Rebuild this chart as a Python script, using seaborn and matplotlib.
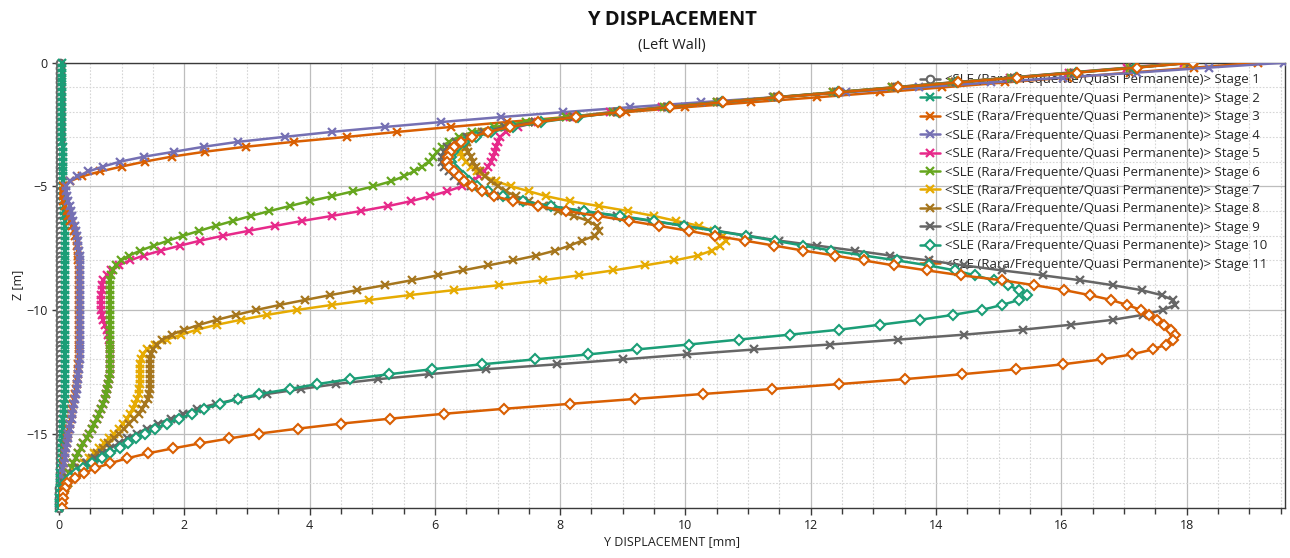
import matplotlib
matplotlib.use("Agg")
import matplotlib.pyplot as plt
from matplotlib.ticker import MultipleLocator
import seaborn as sns

# Node depths along the wall [m]
DEPTH = [
    0.0, -0.2, -0.4, -0.6, -0.8, -1.0, -1.2, -1.4, -1.6, -1.8,
    -2.0, -2.2, -2.4, -2.6, -2.8, -3.0, -3.2, -3.4, -3.6, -3.8,
    -4.0, -4.2, -4.4, -4.6, -4.8, -5.0, -5.2, -5.4, -5.6, -5.8,
    -6.0, -6.2, -6.4, -6.6, -6.8, -7.0, -7.2, -7.4, -7.6, -7.8,
    -8.0, -8.2, -8.4, -8.6, -8.8, -9.0, -9.2, -9.4, -9.6, -9.8,
    -10.0, -10.2, -10.4, -10.6, -10.8, -11.0, -11.2, -11.4, -11.6, -11.8,
    -12.0, -12.2, -12.4, -12.6, -12.8, -13.0, -13.2, -13.4, -13.6, -13.8,
    -14.0, -14.2, -14.4, -14.6, -14.8, -15.0, -15.2, -15.4, -15.6, -15.8,
    -16.0, -16.2, -16.4, -16.6, -16.8, -17.0, -17.2, -17.4, -17.6, -17.8, -18.0,
]

# Horizontal (Y) displacement of the left wall per construction stage [mm]
STAGE_01 = [
    0.02, 0.02, 0.02, 0.02, 0.02, 0.02, 0.02, 0.02, 0.02, 0.02,
    0.02, 0.02, 0.02, 0.02, 0.02, 0.02, 0.02, 0.02, 0.02, 0.02,
    0.02, 0.02, 0.02, 0.02, 0.02, 0.02, 0.02, 0.02, 0.02, 0.02,
    0.02, 0.02, 0.02, 0.02, 0.02, 0.02, 0.02, 0.02, 0.02, 0.02,
    0.02, 0.02, 0.02, 0.02, 0.02, 0.02, 0.02, 0.02, 0.02, 0.02,
    0.02, 0.02, 0.02, 0.02, 0.02, 0.02, 0.02, 0.02, 0.02, 0.02,
    0.02, 0.02, 0.02, 0.02, 0.02, 0.02, 0.02, 0.02, 0.02, 0.02,
    0.02, 0.02, 0.02, 0.02, 0.02, 0.02, 0.02, 0.02, 0.01, 0.01,
    0.01, 0.01, 0.01, 0.01, 0.01, 0.01, 0.0, 0.0, 0.0, 0.0, 0.0,
]
STAGE_02 = [
    0.05, 0.05, 0.05, 0.05, 0.05, 0.05, 0.05, 0.05, 0.05, 0.05,
    0.05, 0.05, 0.05, 0.05, 0.05, 0.05, 0.05, 0.06, 0.06, 0.06,
    0.06, 0.06, 0.06, 0.06, 0.07, 0.07, 0.07, 0.07, 0.08, 0.08,
    0.08, 0.08, 0.09, 0.09, 0.09, 0.09, 0.10, 0.10, 0.10, 0.10,
    0.10, 0.10, 0.10, 0.10, 0.10, 0.10, 0.10, 0.10, 0.10, 0.10,
    0.10, 0.10, 0.10, 0.10, 0.10, 0.10, 0.10, 0.10, 0.10, 0.10,
    0.10, 0.10, 0.10, 0.10, 0.10, 0.09, 0.09, 0.09, 0.09, 0.08,
    0.08, 0.08, 0.07, 0.07, 0.07, 0.06, 0.06, 0.05, 0.05, 0.04,
    0.04, 0.03, 0.03, 0.02, 0.02, 0.01, 0.01, 0.01, 0.0, 0.0, 0.0,
]
STAGE_03 = [
    19.14, 18.12, 17.10, 16.10, 15.10, 14.10, 13.10, 12.10, 11.05, 10.00,
    9.05, 8.10, 7.15, 6.25, 5.40, 4.60, 3.75, 2.98, 2.33, 1.80,
    1.37, 1.00, 0.66, 0.36, 0.17, 0.07, 0.04, 0.04, 0.06, 0.09,
    0.12, 0.15, 0.18, 0.21, 0.24, 0.26, 0.28, 0.29, 0.30, 0.31,
    0.31, 0.32, 0.32, 0.32, 0.32, 0.32, 0.32, 0.32, 0.32, 0.32,
    0.32, 0.32, 0.32, 0.32, 0.32, 0.32, 0.32, 0.32, 0.32, 0.32,
    0.32, 0.31, 0.31, 0.30, 0.29, 0.28, 0.27, 0.26, 0.24, 0.23,
    0.21, 0.20, 0.19, 0.17, 0.16, 0.14, 0.13, 0.12, 0.10, 0.09,
    0.08, 0.07, 0.06, 0.05, 0.04, 0.03, 0.02, 0.02, 0.01, 0.0, 0.0,
]
STAGE_04 = [
    19.55, 18.35, 17.20, 16.03, 14.87, 13.72, 12.56, 11.40, 10.25, 9.12,
    8.05, 7.05, 6.10, 5.20, 4.35, 3.60, 2.86, 2.31, 1.84, 1.36,
    0.98, 0.70, 0.47, 0.29, 0.17, 0.11, 0.11, 0.13, 0.15, 0.17,
    0.19, 0.21, 0.23, 0.25, 0.27, 0.29, 0.30, 0.31, 0.32, 0.33,
    0.33, 0.33, 0.33, 0.33, 0.33, 0.33, 0.33, 0.33, 0.33, 0.33,
    0.33, 0.33, 0.33, 0.33, 0.33, 0.33, 0.33, 0.33, 0.33, 0.33,
    0.33, 0.32, 0.32, 0.31, 0.30, 0.29, 0.28, 0.27, 0.25, 0.24,
    0.22, 0.21, 0.20, 0.18, 0.17, 0.15, 0.14, 0.13, 0.11, 0.10,
    0.09, 0.08, 0.07, 0.06, 0.05, 0.04, 0.03, 0.02, 0.01, 0.01, 0.0,
]
STAGE_05 = [
    17.95, 17.05, 16.12, 15.18, 14.25, 13.30, 12.36, 11.42, 10.50, 9.62,
    8.80, 8.15, 7.65, 7.32, 7.13, 7.04, 7.00, 6.98, 6.96, 6.93,
    6.90, 6.85, 6.78, 6.70, 6.58, 6.43, 6.20, 5.92, 5.62, 5.25,
    4.82, 4.35, 3.88, 3.45, 3.03, 2.62, 2.25, 1.93, 1.63, 1.35,
    1.13, 0.95, 0.83, 0.76, 0.71, 0.69, 0.68, 0.67, 0.67, 0.67,
    0.67, 0.68, 0.70, 0.73, 0.76, 0.79, 0.80, 0.81, 0.81, 0.81,
    0.81, 0.81, 0.81, 0.81, 0.80, 0.79, 0.77, 0.75, 0.73, 0.70,
    0.67, 0.64, 0.60, 0.56, 0.52, 0.48, 0.44, 0.39, 0.35, 0.31,
    0.27, 0.23, 0.20, 0.16, 0.13, 0.10, 0.08, 0.06, 0.04, 0.02, 0.0,
]
STAGE_06 = [
    18.00, 17.10, 16.15, 15.20, 14.25, 13.30, 12.35, 11.42, 10.50, 9.65,
    8.85, 8.10, 7.45, 6.95, 6.60, 6.38, 6.22, 6.12, 6.04, 5.97,
    5.90, 5.80, 5.66, 5.50, 5.30, 5.02, 4.70, 4.36, 4.00, 3.68,
    3.36, 3.06, 2.78, 2.50, 2.24, 1.98, 1.74, 1.51, 1.30, 1.12,
    0.99, 0.91, 0.86, 0.83, 0.82, 0.81, 0.81, 0.81, 0.81, 0.81,
    0.81, 0.81, 0.81, 0.81, 0.81, 0.81, 0.81, 0.81, 0.81, 0.81,
    0.81, 0.81, 0.81, 0.81, 0.80, 0.79, 0.77, 0.75, 0.73, 0.70,
    0.67, 0.64, 0.60, 0.56, 0.52, 0.48, 0.44, 0.39, 0.35, 0.31,
    0.27, 0.23, 0.20, 0.16, 0.13, 0.10, 0.08, 0.06, 0.04, 0.02, 0.0,
]
STAGE_07 = [
    18.00, 17.12, 16.18, 15.24, 14.30, 13.35, 12.40, 11.46, 10.55, 9.70,
    8.90, 8.20, 7.60, 7.12, 6.80, 6.62, 6.50, 6.44, 6.42, 6.44,
    6.50, 6.57, 6.67, 6.80, 6.98, 7.22, 7.50, 7.78, 8.15, 8.62,
    9.08, 9.50, 9.85, 10.22, 10.45, 10.60, 10.64, 10.55, 10.42, 10.20,
    9.82, 9.35, 8.85, 8.30, 7.72, 7.02, 6.30, 5.60, 4.95, 4.35,
    3.80, 3.32, 2.90, 2.52, 2.20, 1.95, 1.72, 1.53, 1.41, 1.34,
    1.31, 1.30, 1.29, 1.29, 1.29, 1.29, 1.28, 1.27, 1.25, 1.22,
    1.18, 1.13, 1.08, 1.02, 0.95, 0.88, 0.80, 0.72, 0.64, 0.56,
    0.48, 0.40, 0.33, 0.26, 0.20, 0.14, 0.09, 0.05, 0.03, 0.01, 0.0,
]
STAGE_08 = [
    18.05, 17.15, 16.20, 15.25, 14.30, 13.35, 12.40, 11.46, 10.55, 9.70,
    8.90, 8.20, 7.60, 7.10, 6.75, 6.56, 6.51, 6.50, 6.53, 6.57,
    6.61, 6.66, 6.72, 6.80, 6.90, 7.01, 7.13, 7.30, 7.50, 7.72,
    7.96, 8.22, 8.45, 8.58, 8.62, 8.55, 8.35, 8.15, 7.92, 7.62,
    7.25, 6.85, 6.45, 6.05, 5.63, 5.20, 4.76, 4.33, 3.92, 3.52,
    3.15, 2.83, 2.52, 2.24, 2.00, 1.80, 1.65, 1.56, 1.50, 1.47,
    1.46, 1.45, 1.45, 1.45, 1.45, 1.45, 1.45, 1.44, 1.42, 1.38,
    1.33, 1.27, 1.19, 1.11, 1.04, 0.96, 0.88, 0.79, 0.70, 0.61,
    0.52, 0.43, 0.35, 0.28, 0.21, 0.15, 0.10, 0.06, 0.03, 0.01, 0.0,
]
STAGE_09 = [
    18.05, 17.15, 16.20, 15.25, 14.32, 13.38, 12.43, 11.48, 10.57, 9.72,
    8.92, 8.22, 7.60, 7.12, 6.78, 6.52, 6.33, 6.20, 6.14, 6.12,
    6.12, 6.15, 6.22, 6.30, 6.42, 6.58, 6.78, 7.05, 7.40, 7.85,
    8.35, 8.90, 9.45, 9.98, 10.50, 11.00, 11.50, 12.10, 12.70, 13.27,
    13.88, 14.45, 15.05, 15.70, 16.30, 16.82, 17.28, 17.60, 17.78, 17.82,
    17.62, 17.30, 16.82, 16.15, 15.38, 14.45, 13.40, 12.30, 11.10, 10.02,
    9.00, 7.95, 6.82, 5.90, 5.10, 4.42, 3.86, 3.32, 2.86, 2.50,
    2.20, 1.98, 1.78, 1.58, 1.40, 1.24, 1.09, 0.95, 0.82, 0.69,
    0.57, 0.44, 0.32, 0.22, 0.14, 0.08, 0.04, 0.02, 0.01, 0.0, 0.0,
]
STAGE_10 = [
    18.10, 17.18, 16.23, 15.28, 14.34, 13.39, 12.44, 11.49, 10.59, 9.74,
    8.94, 8.28, 7.70, 7.25, 6.90, 6.65, 6.47, 6.35, 6.29, 6.26,
    6.26, 6.29, 6.36, 6.45, 6.55, 6.68, 6.85, 7.08, 7.40, 7.85,
    8.38, 8.95, 9.50, 9.98, 10.47, 10.96, 11.43, 11.88, 12.33, 12.85,
    13.38, 13.88, 14.30, 14.62, 14.92, 15.15, 15.33, 15.45, 15.32, 15.05,
    14.73, 14.27, 13.74, 13.10, 12.45, 11.67, 10.85, 10.05, 9.22, 8.45,
    7.60, 6.75, 5.95, 5.27, 4.65, 4.12, 3.68, 3.20, 2.85, 2.57,
    2.32, 2.12, 1.92, 1.72, 1.54, 1.38, 1.23, 1.10, 0.98, 0.82,
    0.68, 0.53, 0.38, 0.27, 0.17, 0.10, 0.06, 0.03, 0.02, 0.01, 0.0,
]
STAGE_11 = [
    18.10, 17.20, 16.25, 15.30, 14.35, 13.40, 12.45, 11.50, 10.60, 9.75,
    8.95, 8.25, 7.65, 7.20, 6.85, 6.60, 6.42, 6.30, 6.24, 6.21,
    6.20, 6.23, 6.30, 6.38, 6.47, 6.60, 6.76, 6.95, 7.25, 7.65,
    8.10, 8.60, 9.10, 9.58, 10.05, 10.47, 10.95, 11.42, 11.88, 12.38,
    12.85, 13.33, 13.85, 14.40, 15.05, 15.57, 16.05, 16.45, 16.80, 17.05,
    17.27, 17.40, 17.52, 17.64, 17.75, 17.82, 17.79, 17.67, 17.46, 17.12,
    16.65, 16.02, 15.28, 14.42, 13.50, 12.45, 11.38, 10.28, 9.20, 8.15,
    7.10, 6.15, 5.28, 4.50, 3.82, 3.20, 2.72, 2.25, 1.82, 1.42,
    1.09, 0.82, 0.58, 0.40, 0.25, 0.13, 0.09, 0.07, 0.06, 0.05, 0.05,
]

STAGES = [STAGE_01, STAGE_02, STAGE_03, STAGE_04, STAGE_05, STAGE_06,
          STAGE_07, STAGE_08, STAGE_09, STAGE_10, STAGE_11]
STAGE_LABELS = [f"<SLE (Rara/Frequente/Quasi Permanente)> Stage {n}"
                for n in range(1, 12)]
X_TICKS = [0, 2, 4, 6, 8, 10, 12, 14, 16, 18]
Z_TICKS = [0, -5, -10, -15]

sns.set_theme(style="white")
plt.rcParams["font.family"] = ["Open Sans", "DejaVu Sans"]

dark2 = sns.color_palette("Dark2", 8)
# colour cycle starts from the grey entry, then wraps around Dark2
colour_index = [7, 0, 1, 2, 3, 4, 5, 6, 7, 0, 1]
marker_for = ["o"] + ["x"] * 8 + ["D", "D"]

W, H = 1290, 558
fig = plt.figure(figsize=(W / 100, H / 100), dpi=100)
ax_l, ax_r, ax_t, ax_b = 59, 1285, 62.7, 507.7
ax = fig.add_axes([ax_l / W, 1 - ax_b / H, (ax_r - ax_l) / W, (ax_b - ax_t) / H])

for k, (disp, label) in enumerate(zip(STAGES, STAGE_LABELS)):
    col = dark2[colour_index[k]]
    mk = marker_for[k]
    style = dict(marker=mk, color=col, linewidth=1.8, markeredgecolor=col)
    if mk == "x":
        style.update(markersize=5.5, markeredgewidth=1.6)
    else:
        style.update(markersize=5 if mk == "D" else 5.5,
                     markeredgewidth=1.5, markerfacecolor="white")
    sns.lineplot(x=disp, y=DEPTH, sort=False, estimator=None, ax=ax,
                 label=label, legend=False, clip_on=(k > 1), zorder=3 + k,
                 **style)

ax.set_xlim(0, 19.57)
ax.set_ylim(-18, 0)
ax.set_xticks(X_TICKS)
ax.set_yticks(Z_TICKS)
ax.xaxis.set_minor_locator(MultipleLocator(0.5))
ax.yaxis.set_minor_locator(MultipleLocator(1))

ax.grid(which="major", color="#bdbdbd", linewidth=0.9, linestyle="-")
ax.grid(which="minor", color="#d6d6d6", linewidth=0.8, linestyle=(0, (1.5, 1.5)))
ax.set_axisbelow(True)

for sp in ax.spines.values():
    sp.set_color("#3a3a3a")
    sp.set_linewidth(1.0)

ax.tick_params(which="major", direction="out", length=5, width=1,
               color="#3a3a3a", labelsize=9, labelcolor="#202020",
               bottom=True, left=True, pad=3)
ax.tick_params(axis="x", which="minor", direction="out", length=4, width=1,
               color="#3a3a3a", bottom=True)
ax.tick_params(axis="y", which="minor", length=0)

ax.set_xlabel("Y DISPLACEMENT [mm]", fontsize=9, color="#202020", labelpad=2)
ax.set_ylabel("Z [m]", fontsize=9, color="#202020", labelpad=2)

fig.text(672 / W, 1 - 20 / H, "Y DISPLACEMENT", ha="center", va="center",
         fontsize=14.5, fontweight="bold", color="#111111")
fig.text(672 / W, 1 - 45 / H, "(Left Wall)", ha="center", va="center",
         fontsize=10.5, color="#202020")

handles, labels = ax.get_legend_handles_labels()
ax.legend(handles, labels, loc="upper left", frameon=False,
          bbox_to_anchor=(920 / W, 1 - 73.5 / H), bbox_transform=fig.transFigure,
          fontsize=9.5, handlelength=1.55, handletextpad=0.35, labelspacing=0.41,
          borderpad=0, borderaxespad=0)

fig.savefig("out.png", dpi=100)
